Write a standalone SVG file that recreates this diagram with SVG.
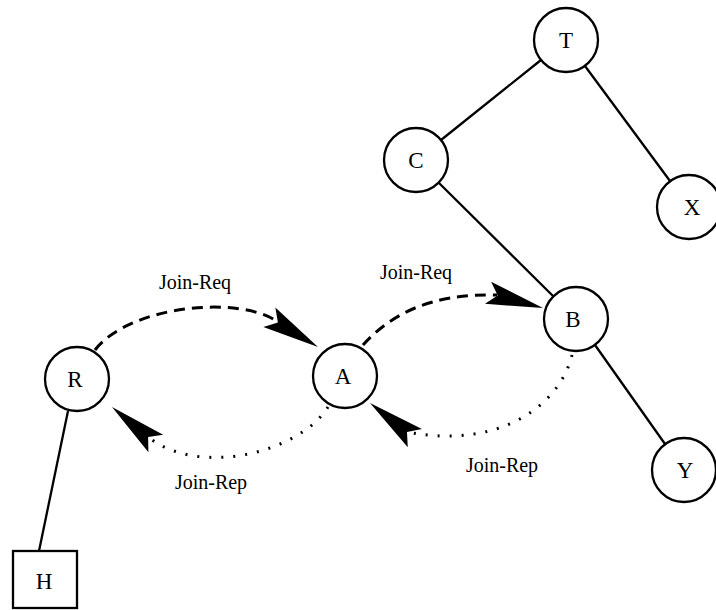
<svg xmlns="http://www.w3.org/2000/svg" xmlns:xlink="http://www.w3.org/1999/xlink" width="716" height="610" viewBox="0 0 716 610">
<style>
.node circle, .node rect { fill: #fff; stroke: #000; stroke-width: 2.3; }
.node text { font-family: "Liberation Serif", "Times New Roman", serif; font-size: 23px; text-anchor: middle; fill: #000; }
.edge { stroke: #000; stroke-width: 2.3; fill: none; }
.req { stroke: #000; stroke-width: 3; fill: none; stroke-dasharray: 11 7; }
.rep { stroke: #000; stroke-width: 3; fill: none; stroke-dasharray: 2 10; }
.lbl { font-family: "Liberation Serif", "Times New Roman", serif; font-size: 20px; text-anchor: middle; fill: #000; }
</style>
<defs>
<path id="ah" d="M0,0 L-57,-11.5 L-47,0 L-57,11.5 Z" fill="#000"/>
</defs>
<rect x="0" y="0" width="716" height="610" fill="#fff"/>
<g id="connectors">
<line class="edge" x1="541" y1="60" x2="441" y2="140"/>
<line class="edge" x1="585" y1="66" x2="670" y2="181"/>
<line class="edge" x1="439" y1="183" x2="553" y2="296"/>
<line class="edge" x1="595" y1="345" x2="665" y2="444"/>
<line class="edge" x1="68" y1="411" x2="39" y2="551"/>
<path class="req" d="M95,350 C130,305 240,295 278,322"/>
<use xlink:href="#ah" href="#ah" transform="translate(318,347) rotate(31.4)"/>
<path class="req" d="M363,345 C390,315 430,293 497,295"/>
<use xlink:href="#ah" href="#ah" transform="translate(543,308) rotate(15.5)"/>
<path class="rep" d="M572,355 C560,405 500,450 407,432"/>
<use xlink:href="#ah" href="#ah" transform="translate(370,403) rotate(218.1)"/>
<path class="rep" d="M328,407 C300,452 200,478 148,437"/>
<use xlink:href="#ah" href="#ah" transform="translate(112,407) rotate(219.8)"/>
<text class="lbl" x="195" y="289">Join-Req</text>
<text class="lbl" x="416" y="279">Join-Req</text>
<text class="lbl" x="211" y="489">Join-Rep</text>
<text class="lbl" x="502" y="472">Join-Rep</text>
</g>
<g id="node-T" class="node"><circle cx="566" cy="40" r="32"/><text x="566" y="48">T</text></g>
<g id="node-C" class="node"><circle cx="416" cy="160" r="32"/><text x="416" y="168">C</text></g>
<g id="node-X" class="node"><circle cx="689" cy="207" r="32"/><text x="692" y="215">X</text></g>
<g id="node-B" class="node"><circle cx="576" cy="319" r="32"/><text x="573" y="327">B</text></g>
<g id="node-Y" class="node"><circle cx="684" cy="470" r="32"/><text x="685" y="478">Y</text></g>
<g id="node-A" class="node"><circle cx="345" cy="376" r="32"/><text x="343" y="384">A</text></g>
<g id="node-R" class="node"><circle cx="77" cy="379" r="32"/><text x="75" y="387">R</text></g>
<g id="node-H" class="node"><rect x="13" y="551" width="64" height="57"/><text x="44" y="589">H</text></g>
</svg>
